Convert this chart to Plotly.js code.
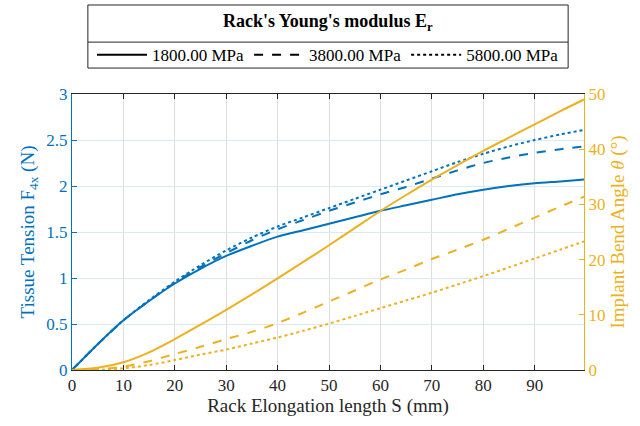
<!DOCTYPE html>
<html>
<head>
<meta charset="utf-8">
<script src="https://cdn.plot.ly/plotly-3.0.1.min.js"></script>
<style>html,body{margin:0;padding:0;background:#fff;}#chart{width:640px;height:426px;}</style>
</head>
<body>
<div id="chart"></div>
<script>
// Rack elongation length S (mm)
const S = [0,5,10,15,20,25,30,35,40,45,50,55,60,65,70,75,80,85,90,95,99.6];
// Tissue tension F4x (N) for each Young's modulus
const F_1800 = [0,0.28,0.54,0.75,0.94,1.10,1.24,1.35,1.45,1.52,1.59,1.66,1.73,1.79,1.85,1.91,1.96,2.00,2.03,2.05,2.07];
const F_3800 = [0,0.28,0.54,0.75,0.95,1.12,1.27,1.41,1.53,1.63,1.73,1.82,1.91,1.99,2.08,2.17,2.25,2.31,2.36,2.40,2.43];
const F_5800 = [0,0.28,0.54,0.76,0.96,1.14,1.30,1.44,1.56,1.66,1.76,1.86,1.96,2.06,2.16,2.26,2.35,2.43,2.50,2.56,2.61];
// Implant bend angle theta (deg)
const T_1800 = [0,0.4,1.4,3.2,5.6,8.2,10.9,13.7,16.6,19.6,22.6,25.7,28.8,31.7,34.5,37.1,39.7,42.1,44.5,46.9,49.0];
const T_3800 = [0,0.15,0.6,1.6,2.9,4.2,5.6,6.9,8.5,10.4,12.4,14.4,16.4,18.2,20.1,21.8,23.6,25.6,27.6,29.6,31.4];
const T_5800 = [0,0.05,0.3,0.9,1.8,2.8,3.7,4.8,5.9,7.1,8.4,9.8,11.2,12.6,14.0,15.5,17.0,18.6,20.2,21.8,23.3];
const legendNames = ['1800.00 MPa','3800.00 MPa','5800.00 MPa'];
const legendTitle = "<b>Rack's Young's modulus E<sub>r</sub></b>";
const dashes = ['solid','dash','dot'];
const xTicks = [0,10,20,30,40,50,60,70,80,90];

const BLUE = '#0072BD', ORANGE = '#EDB120', DARK = '#262626';
const FONT = 'Liberation Serif, Times New Roman, serif';

const Fs = [F_1800, F_3800, F_5800];
const Ts = [T_1800, T_3800, T_5800];
const traces = [];
for (let i = 0; i < 3; i++) {
  traces.push({x:S, y:Fs[i], yaxis:'y', mode:'lines', showlegend:false,
    line:{color:BLUE, width:2, dash:dashes[i], shape:'spline', smoothing:0.8}, hoverinfo:'skip'});
}
for (let i = 0; i < 3; i++) {
  traces.push({x:S, y:Ts[i], yaxis:'y2', mode:'lines', showlegend:false,
    line:{color:ORANGE, width:2, dash:dashes[i], shape:'spline', smoothing:0.8}, hoverinfo:'skip'});
}
for (let i = 0; i < 3; i++) {
  traces.push({x:[null], y:[null], mode:'lines', name:legendNames[i], showlegend:true,
    line:{color:'#000', width:2, dash:dashes[i]}});
}

// legend frame (paper coordinates)
const LX0 = 0.031, LX1 = 0.969, LYTOP = 1.3225, LYSEP = 1.188, LYBOT = 1.094;

const layout = {
  width:640, height:426,
  margin:{l:72, r:56, t:94, b:56},
  paper_bgcolor:'#fff', plot_bgcolor:'#fff',
  font:{family:FONT, size:17, color:DARK},
  showlegend:true,
  legend:{
    orientation:'h', x:0.5, xanchor:'center', y:(LYSEP+LYBOT)/2, yanchor:'middle',
    borderwidth:0, bgcolor:'rgba(0,0,0,0)',
    font:{family:FONT, size:17, color:'#000'},
    itemwidth:50, tracegroupgap:0
  },
  annotations:[{text:legendTitle, xref:'paper', yref:'paper', x:0.5, y:(LYTOP+LYSEP)/2 + 0.005,
    xanchor:'center', yanchor:'middle', showarrow:false, font:{family:FONT, size:18, color:'#000'}}],
  shapes:[
    {type:'rect', xref:'paper', yref:'paper', x0:LX0, x1:LX1, y0:LYBOT, y1:LYTOP, line:{color:DARK, width:1}, fillcolor:'rgba(0,0,0,0)'},
    {type:'line', xref:'paper', yref:'paper', x0:LX0, x1:LX1, y0:LYSEP, y1:LYSEP, line:{color:DARK, width:1}}
  ],
  xaxis:{
    range:[0,99.6], tickvals:xTicks, ticktext:xTicks.map(String),
    ticks:'inside', ticklen:5, tickcolor:DARK,
    showline:true, linecolor:DARK, linewidth:1, mirror:'ticks',
    showgrid:true, gridcolor:'#dedede', gridwidth:1, zeroline:false,
    tickfont:{family:FONT, size:17, color:DARK},
    title:{text:'Rack Elongation length S (mm)', font:{family:FONT, size:19, color:DARK}, standoff:2}
  },
  yaxis:{
    range:[0,3], dtick:0.5, tick0:0,
    ticks:'inside', ticklen:5, tickcolor:BLUE,
    showline:true, linecolor:BLUE, linewidth:1,
    showgrid:true, gridcolor:'#d9eaf5', gridwidth:1, zeroline:false,
    tickfont:{family:FONT, size:17, color:BLUE},
    title:{text:'Tissue Tension F<sub>4x</sub> (N)', font:{family:FONT, size:19, color:BLUE}, standoff:6}
  },
  yaxis2:{
    range:[0,50], dtick:10, tick0:0, overlaying:'y', side:'right',
    ticks:'inside', ticklen:5, tickcolor:ORANGE,
    showline:true, linecolor:ORANGE, linewidth:1,
    showgrid:false, zeroline:false,
    tickfont:{family:FONT, size:17, color:ORANGE},
    title:{text:'Implant Bend Angle <i>θ</i> (°)', font:{family:FONT, size:19, color:ORANGE}, standoff:6}
  }
};

Plotly.newPlot('chart', traces, layout, {displayModeBar:false, staticPlot:true});
</script>
</body>
</html>
